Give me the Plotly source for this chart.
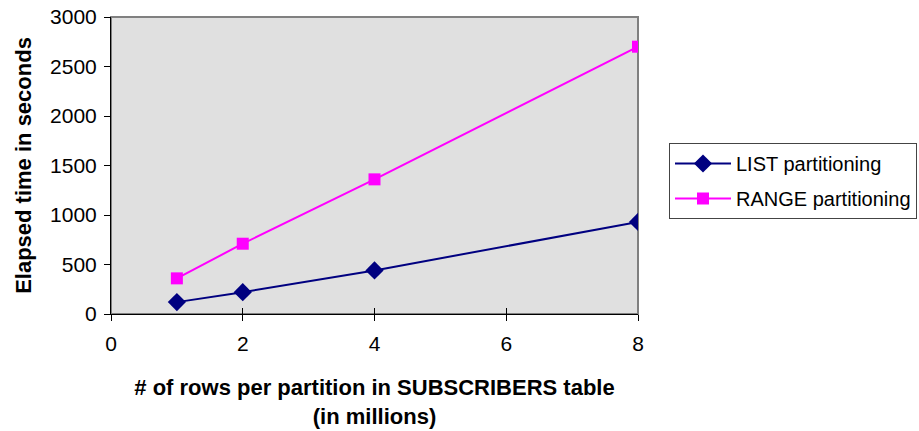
import plotly.graph_objects as go

# Rows per partition (millions) and elapsed time (seconds)
rows_millions = [1, 2, 4, 8]
list_seconds = [120, 220, 440, 930]
range_seconds = [360, 710, 1360, 2700]

x_ticks = [0, 2, 4, 6, 8]
y_ticks = [0, 500, 1000, 1500, 2000, 2500, 3000]

FONT = "Liberation Sans, Arial, sans-serif"

fig = go.Figure()
fig.add_trace(go.Scatter(
    x=rows_millions, y=list_seconds, name="LIST partitioning",
    legendgroup="list", mode="lines+markers",
    line=dict(color="#000080", width=2),
    marker=dict(symbol="diamond", size=14, color="#000080"),
))
fig.add_trace(go.Scatter(
    x=rows_millions, y=range_seconds, name="RANGE partitioning",
    legendgroup="range", mode="lines+markers",
    line=dict(color="#FF00FF", width=2),
    marker=dict(symbol="square", size=12, color="#FF00FF"),
))

fig.update_layout(
    width=919, height=431,
    margin=dict(l=111, r=281, t=17, b=117),
    paper_bgcolor="white",
    plot_bgcolor="#e0e0e0",
    font=dict(family=FONT, size=21, color="black"),
    showlegend=True,
    legend=dict(
        xref="container", yref="container",
        x=669 / 919, y=1 - 143 / 431, xanchor="left", yanchor="top",
        bordercolor="#444444", borderwidth=1, bgcolor="white",
        font=dict(family=FONT, size=20, color="black"),
        traceorder="grouped", tracegroupgap=6, itemwidth=56,
    ),
    shapes=[dict(
        type="rect", xref="paper", yref="paper", x0=0, y0=0, x1=1, y1=1,
        line=dict(color="#808080", width=2), layer="below",
    )],
    # second x axis carries the inward half of the crossing tick marks
    xaxis2=dict(
        overlaying="x", side="bottom", range=[0, 8], tickvals=x_ticks,
        showticklabels=False, ticks="inside", ticklen=6, tickcolor="black",
        showgrid=False, zeroline=False, showline=False, automargin=False,
    ),
)

fig.layout.xaxis.update(
    range=[0, 8], tickvals=x_ticks, ticktext=[str(v) for v in x_ticks],
    showgrid=False, zeroline=False, automargin=False,
    showline=True, linecolor="black", linewidth=1,
    ticks="outside", ticklen=6, tickcolor="black",
    tickfont=dict(size=21), ticklabelstandoff=5,
    title=dict(
        text="<b># of rows per partition in SUBSCRIBERS table<br>(in millions)</b>",
        font=dict(size=22), standoff=25,
    ),
)
fig.layout.yaxis.update(
    range=[0, 3000], tickvals=y_ticks, ticktext=[str(v) for v in y_ticks],
    showgrid=False, zeroline=False, automargin=False,
    showline=True, linecolor="black", linewidth=1,
    ticks="outside", ticklen=6, tickcolor="black",
    tickfont=dict(size=21), ticklabelstandoff=3,
    title=dict(text="<b>Elapsed time in seconds</b>", font=dict(size=22), standoff=12),
)

# invisible trace that activates the overlay axis
fig.add_trace(go.Scatter(x=[None], y=[None], xaxis="x2", showlegend=False,
                         hoverinfo="skip"))

fig.write_html("out.html")
